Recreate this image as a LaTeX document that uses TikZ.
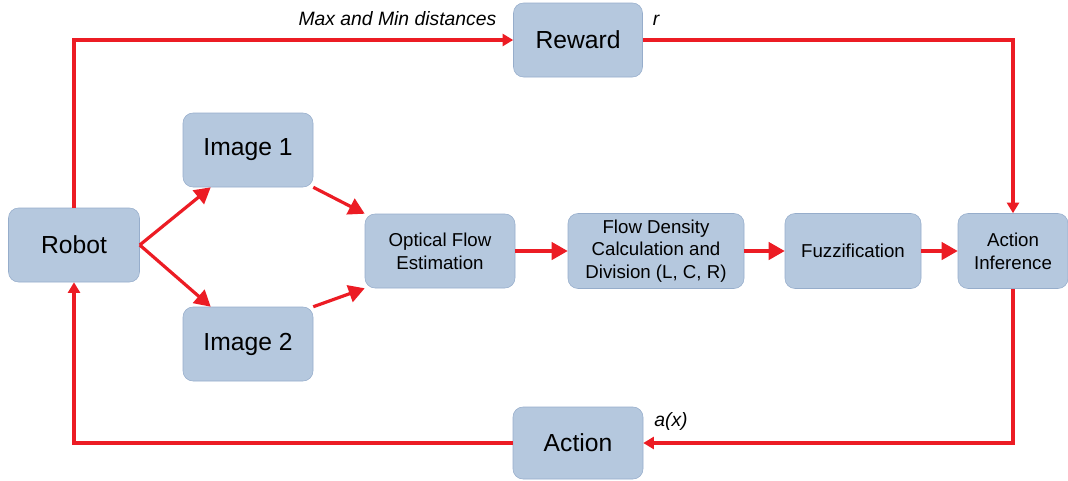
\documentclass[tikz,border=0pt]{standalone}
\usepackage{fontspec}
\setmainfont{Liberation Sans}
\usetikzlibrary{arrows.meta,positioning}
\definecolor{boxfill}{RGB}{181,200,222}
\definecolor{boxedge}{RGB}{150,173,203}
\definecolor{arrowred}{RGB}{236,28,36}

\begin{document}
\begin{tikzpicture}[x=0.75pt, y=-0.75pt,
  box/.style={draw=boxedge, fill=boxfill, rounded corners=7.5pt, inner sep=0pt, align=center},
  bigbox/.style={box, font=\fontsize{18.5}{22}\selectfont},
  smallbox/.style={box, font=\fontsize{14}{17}\selectfont},
  flow/.style={arrowred, line width=2.4pt, -{Triangle[length=12pt, width=13pt]}},
  loop/.style={arrowred, line width=2.3pt, -{Triangle[length=8pt, width=9pt]}},
  lbl/.style={font=\fontsize{14.5}{17}\selectfont\itshape}]
\useasboundingbox (0,0) rectangle (1068,480);

% Boxes
\node[bigbox, minimum width=98.25pt, minimum height=55.5pt] (robot) at (74,245) {Robot};
\node[bigbox, minimum width=97.5pt, minimum height=55.5pt] (img1) at (248,150) {Image 1};
\node[bigbox, minimum width=97.5pt, minimum height=55.5pt] (img2) at (248,344) {Image 2};
\node[smallbox, minimum width=112.5pt, minimum height=55.5pt] (optflow) at (440,251) {Optical Flow\\Estimation};
\node[smallbox, minimum width=132pt, minimum height=56.25pt] (density) at (656,251) {Flow Density\\Calculation and\\Division (L, C, R)};
\node[smallbox, minimum width=102pt, minimum height=56.25pt] (fuzzy) at (853,251) {Fuzzification};
\node[smallbox, minimum width=82.5pt, minimum height=56.25pt] (infer) at (1013,251) {Action\\Inference};
\node[bigbox, minimum width=96.75pt, minimum height=55.5pt] (reward) at (578,40) {Reward};
\node[bigbox, minimum width=97.5pt, minimum height=54pt] (action) at (578,443) {Action};

% Forward path
\draw[flow] (robot.east) -- (img1.225);
\draw[flow] (robot.east) -- (img2.135);
\draw[flow] (img1.south east) -- (optflow.north west);
\draw[flow] (img2.north east) -- (optflow.south west);
\draw[flow] (optflow) -- (density);
\draw[flow] (density) -- (fuzzy);
\draw[flow] (fuzzy) -- (infer);

% Feedback loops
\draw[loop] (robot.north) |- (reward.west);
\draw[loop] (reward.east) -| (infer.north);
\draw[loop] (infer.south) |- (action.east);
\draw[loop] (action.west) -| (robot.south);

% Labels
\node[lbl, anchor=east] (lmax) at (501,19) {Max and Min distances};
\node[lbl] (lr) at (656,20) {r};
\node[lbl] (lax) at (671,421) {a(x)};
\end{tikzpicture}
\end{document}
